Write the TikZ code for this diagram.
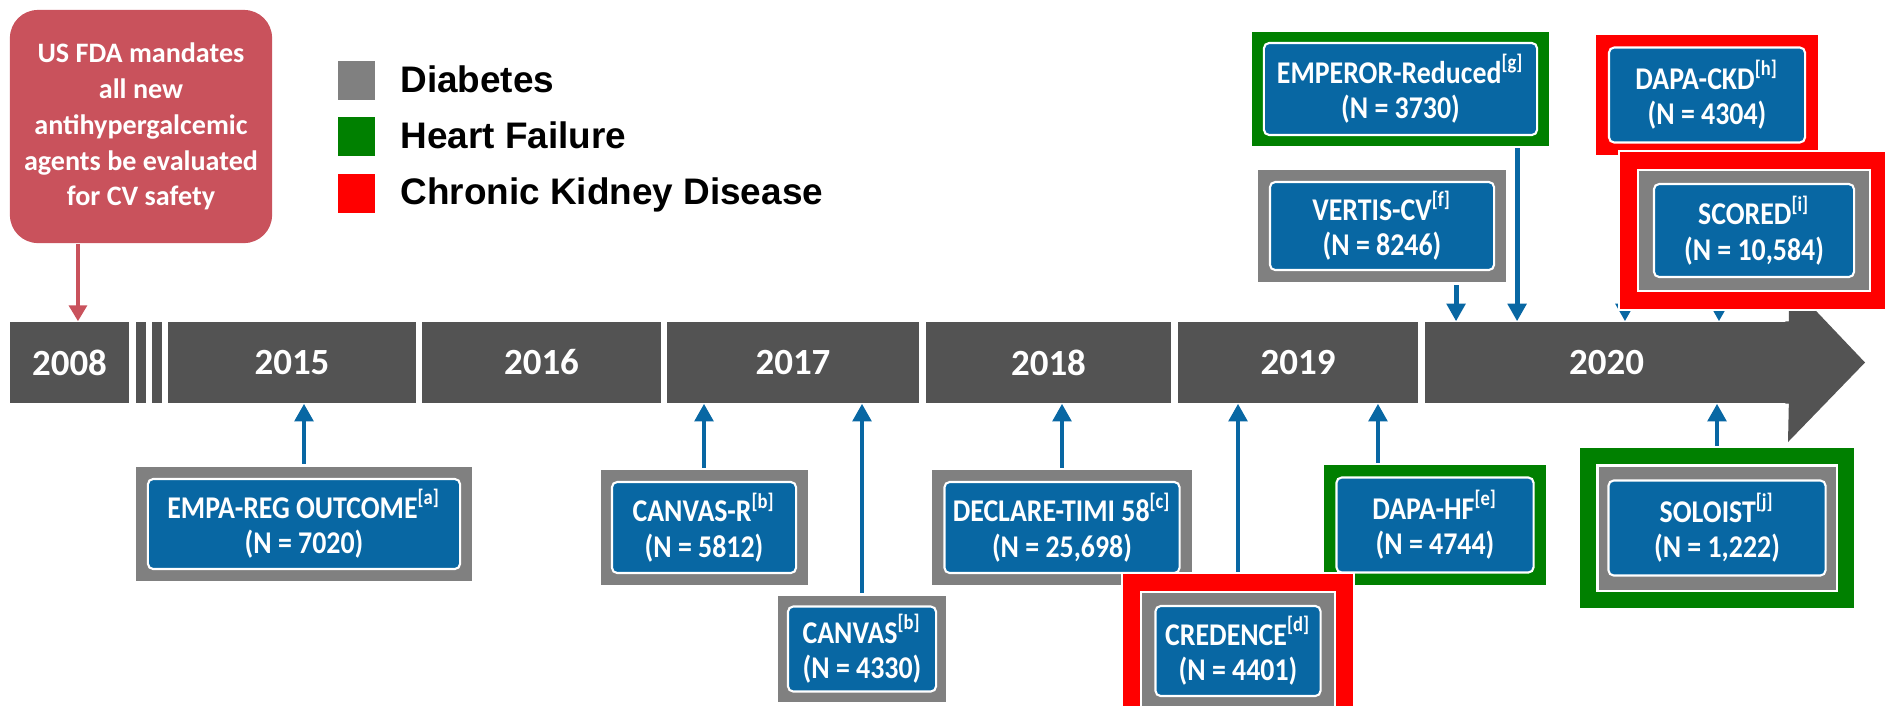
\documentclass[tikz,border=0pt]{standalone}
\usepackage{fontspec}
\setmainfont{Carlito}
\newfontfamily\trialfont{Carlito}[FakeStretch=0.88]
\newfontfamily\legendfont{Liberation Sans}
\usetikzlibrary{shapes}
\usetikzlibrary{arrows.meta}
\usetikzlibrary{positioning}
\usetikzlibrary{calc}
\pgfdeclarelayer{bg}
\pgfsetlayers{bg,main}
\definecolor{tlgrey}{RGB}{83,83,83}
\definecolor{boxblue}{RGB}{8,103,163}
\definecolor{diabgrey}{RGB}{128,128,128}
\definecolor{hfgreen}{RGB}{0,128,0}
\definecolor{ckdred}{RGB}{255,0,0}
\definecolor{fdared}{RGB}{201,82,92}

\begin{document}
\begin{tikzpicture}[x=0.01cm,y=-0.01cm]
\tikzstyle{yr}=[fill=tlgrey,text=white,inner sep=0pt,
        minimum height=0.81cm,
        font=\bfseries\fontsize{10.5}{12}\selectfont]
\tikzstyle{trial}=[fill=boxblue,draw=white,line width=0.6pt,
        rounded corners=1.5pt,text=white,align=center,inner sep=0pt,
        font=\trialfont\bfseries\fontsize{9}{10.2}\selectfont]
\tikzstyle{boxframe}=[draw=white,line width=0.6pt,inner sep=0pt]
\tikzstyle{diab}=[boxframe,fill=diabgrey]
\tikzstyle{hf}=[boxframe,fill=hfgreen]
\tikzstyle{ckd}=[boxframe,fill=ckdred]
\tikzstyle{keysq}=[minimum width=0.37cm,minimum height=0.39cm,inner sep=0pt]
\tikzstyle{keytext}=[inner sep=0pt,text height=1.38ex,text depth=0pt,
        font=\legendfont\bfseries\fontsize{10.5}{12}\selectfont]
%arrow styles
\tikzstyle{link}=[->,>={Triangle[length=5pt,width=5.2pt]},draw=boxblue,line width=1.4pt]
\tikzstyle{fdalink}=[->,>={Triangle[length=4.5pt,width=5pt]},draw=fdared,line width=1.4pt]
\clip (0,0) rectangle (1885,705);
%timeline
\node[yr,minimum width=1.19cm] (y2008) at (69.5,362.5) {2008};
\node[yr,minimum width=0.10cm] (gapA) at (141,362.5) {};
\node[yr,minimum width=0.10cm] (gapB) at (157,362.5) {};
\node[yr,minimum width=2.48cm] (y2015) at (292,362.5) {2015};
\node[yr,minimum width=2.39cm] (y2016) at (541.5,362.5) {2016};
\node[yr,minimum width=2.52cm] (y2017) at (793,362.5) {2017};
\node[yr,minimum width=2.45cm] (y2018) at (1048.5,362.5) {2018};
\node[yr,minimum width=2.40cm] (y2019) at (1298,362.5) {2019};
\node[yr,minimum width=3.63cm] (y2020) at (1606.5,362.5) {2020};
\fill[tlgrey] ([xshift=-1pt]y2020.north east) -- ++(1pt,0) -- ++(0,-39)
        -- (1865,362.5) -- (1788,442) -- (y2020.south east) -- ++(-1pt,0) -- cycle;
%FDA box
\node[fill=fdared,rounded corners=0.28cm,minimum width=2.62cm,minimum height=2.33cm,
        text=white,align=center,inner sep=0pt,
        font=\bfseries\fontsize{8}{10.2}\selectfont] (fda) at (141,126.5)
        {US FDA mandates\\all new\\antihypergalcemic\\agents be evaluated\\for CV safety};
\draw[fdalink] ([xshift=-0.63cm]fda.south) -- ([xshift=-0.63cm]fda.south |- y2008.north);
%legend
\node[keysq,fill=diabgrey] (kdiab) at (356.5,80.5) {};
\node[keysq,fill=hfgreen] (khf) at (356.5,136.5) {};
\node[keysq,fill=ckdred] (kckd) at (356.5,193) {};
\node[keytext,right=0.24cm of kdiab] (tdiab) {Diabetes};
\node[keytext,right=0.24cm of khf] (thf) {Heart Failure};
\node[keytext,right=0.24cm of kckd] (tckd) {Chronic Kidney Disease};
%trials below
\node[diab,minimum width=3.38cm,minimum height=1.17cm] (empaF) at (304,524) {};
\node[trial,minimum width=3.12cm,minimum height=0.90cm] (empa) at (304,524)
        {EMPA-REG OUTCOME\textsuperscript{[a]}\\(N = 7020)};
\node[diab,minimum width=2.09cm,minimum height=1.17cm] (canrF) at (704,527.5) {};
\node[trial,minimum width=1.84cm,minimum height=0.91cm] (canr) at (704,527.5)
        {CANVAS-R\textsuperscript{[b]}\\(N = 5812)};
\node[diab,minimum width=1.70cm,minimum height=1.09cm] (canF) at (862,649) {};
\node[trial,minimum width=1.48cm,minimum height=0.85cm] (can) at (862,649)
        {CANVAS\textsuperscript{[b]}\\(N = 4330)};
\node[diab,minimum width=2.61cm,minimum height=1.17cm] (declF) at (1062,527.5) {};
\node[trial,minimum width=2.35cm,minimum height=0.91cm] (decl) at (1062,527.5)
        {DECLARE-TIMI 58\textsuperscript{[c]}\\(N = 25,698)};
\node[hf,minimum width=2.24cm,minimum height=1.22cm] (dapahfF) at (1435,525) {};
\node[trial,minimum width=1.97cm,minimum height=0.95cm] (dapahf) at (1435,525)
        {DAPA-HF\textsuperscript{[e]}\\(N = 4744)};
\node[ckd,minimum width=2.32cm,minimum height=1.56cm] (credF) at (1238,651) {};
\node[diab,minimum width=1.94cm,minimum height=1.18cm] (credG) at (1238,651) {};
\node[trial,minimum width=1.65cm,minimum height=0.90cm] (cred) at (1238,651)
        {CREDENCE\textsuperscript{[d]}\\(N = 4401)};
\node[hf,minimum width=2.76cm,minimum height=1.62cm] (soloF) at (1717,528) {};
\node[diab,minimum width=2.39cm,minimum height=1.25cm] (soloG) at (1717,528) {};
\node[trial,minimum width=2.17cm,minimum height=0.95cm] (solo) at (1717,528)
        {SOLOIST\textsuperscript{[j]}\\(N = 1,222)};
%trials above
\node[diab,minimum width=2.50cm,minimum height=1.15cm] (vertF) at (1382,226) {};
\node[trial,minimum width=2.24cm,minimum height=0.88cm] (vert) at (1382,226)
        {VERTIS-CV\textsuperscript{[f]}\\(N = 8246)};
\node[hf,minimum width=2.99cm,minimum height=1.16cm] (empF) at (1400.5,89) {};
\node[trial,minimum width=2.73cm,minimum height=0.92cm] (emp) at (1400.5,89)
        {EMPEROR-Reduced\textsuperscript{[g]}\\(N = 3730)};
\node[ckd,minimum width=2.24cm,minimum height=1.22cm] (ckdF) at (1707,95) {};
\node[trial,minimum width=1.96cm,minimum height=0.95cm] (ckd) at (1707,95)
        {DAPA-CKD\textsuperscript{[h]}\\(N = 4304)};
\node[ckd,minimum width=2.70cm,minimum height=1.59cm] (scoF) at (1754,230.5) {};
\node[diab,minimum width=2.32cm,minimum height=1.21cm] (scoG) at (1754,230.5) {};
\node[trial,minimum width=2.00cm,minimum height=0.93cm] (sco) at (1754,230.5)
        {SCORED\textsuperscript{[i]}\\(N = 10,584)};
%arrows
\begin{pgfonlayer}{bg}
\draw[link] (empaF.north) -- (empaF.north |- y2015.south);
\draw[link] (canrF.north) -- (canrF.north |- y2017.south);
\draw[link] (canF.north) -- (canF.north |- y2017.south);
\draw[link] (declF.north) -- (declF.north |- y2018.south);
\draw[link] (credF.north) -- (credF.north |- y2019.south);
\draw[link] ([xshift=-0.57cm]dapahfF.north) -- ([xshift=-0.57cm]dapahfF.north |- y2019.south);
\draw[link] (soloF.north) -- (soloF.north |- y2020.south);
\draw[link] ([xshift=0.74cm]vertF.south) -- ([xshift=0.74cm]vertF.south |- y2020.north);
\draw[link] ([xshift=1.165cm]empF.south) -- ([xshift=1.165cm]empF.south |- y2020.north);
\draw[link] ([xshift=-0.82cm]ckdF.south) -- ([xshift=-0.82cm]ckdF.south |- y2020.north);
\draw[link] ([xshift=-0.35cm]scoF.south) -- ([xshift=-0.35cm]scoF.south |- y2020.north);
\end{pgfonlayer}
\end{tikzpicture}
\end{document}
